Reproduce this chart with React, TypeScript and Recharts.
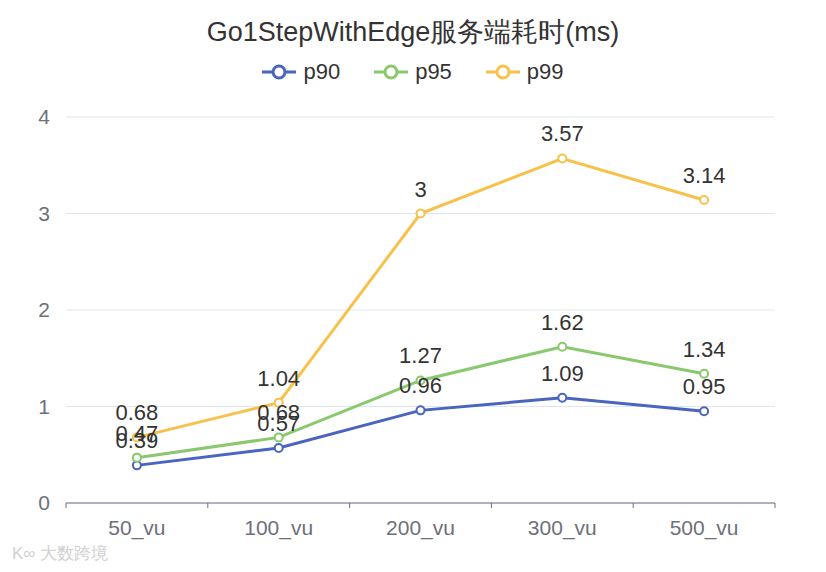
import React from 'react'
import { LineChart, Line, XAxis, YAxis, CartesianGrid, LabelList } from 'recharts'

const categories = ['50_vu', '100_vu', '200_vu', '300_vu', '500_vu']
const p90 = [0.39, 0.57, 0.96, 1.09, 0.95]
const p95 = [0.47, 0.68, 1.27, 1.62, 1.34]
const p99 = [0.68, 1.04, 3, 3.57, 3.14]
const yTicks = [0, 1, 2, 3, 4]

const series = [
  { key: 'p90', color: '#4a64c0' },
  { key: 'p95', color: '#8ac86e' },
  { key: 'p99', color: '#f6c24c' },
]

const W = 826
const H = 572
const margin = { top: 117, right: 51, bottom: 39, left: 0 }
const yAxisWidth = 66
const halfBand = (W - margin.left - margin.right - yAxisWidth) / categories.length / 2

const FONT = '"Liberation Sans", Arial, sans-serif'

const data = categories.map((name, i) => ({
  name,
  p90: p90[i],
  p95: p95[i],
  p99: p99[i],
}))

// category labels centered, tick marks on the band boundaries
function XTick(props: any) {
  const { x, y, payload, index } = props
  return (
    <g>
      <line x1={x - halfBand} y1={y - 8} x2={x - halfBand} y2={y - 3} stroke="#6E7079" />
      {index === categories.length - 1 && (
        <line x1={x + halfBand} y1={y - 8} x2={x + halfBand} y2={y - 3} stroke="#6E7079" />
      )}
      <text x={x} y={y + 24} textAnchor="middle" fill="#6E7079" fontSize={21} fontFamily={FONT}>
        {payload.value}
      </text>
    </g>
  )
}

function LegendIcon({ color }: { color: string }) {
  return (
    <svg width={34} height={16} style={{ verticalAlign: 'middle' }}>
      <line x1={0} y1={8} x2={34} y2={8} stroke={color} strokeWidth={3} />
      <circle cx={17} cy={8} r={6} fill="#fff" stroke={color} strokeWidth={3} />
    </svg>
  )
}

export default function App() {
  return (
    <div style={{ position: 'relative', width: W, height: H, margin: -8, background: '#fff', fontFamily: FONT }}>
      <div
        style={{
          position: 'absolute',
          top: 14,
          left: 0,
          width: W,
          textAlign: 'center',
          fontSize: 27,
          color: '#333',
        }}
      >
        Go1StepWithEdge服务端耗时(ms)
      </div>
      <div
        style={{
          position: 'absolute',
          top: 59,
          left: 0,
          width: W,
          display: 'flex',
          justifyContent: 'center',
          gap: 34,
          fontSize: 22,
          color: '#333',
        }}
      >
        {series.map((s) => (
          <span key={s.key} style={{ display: 'flex', alignItems: 'center', gap: 7 }}>
            <LegendIcon color={s.color} />
            {s.key}
          </span>
        ))}
      </div>
      <LineChart width={W} height={H} data={data} margin={margin}>
        <CartesianGrid vertical={false} stroke="#E0E6F1" />
        <XAxis
          dataKey="name"
          height={30}
          padding={{ left: halfBand, right: halfBand }}
          axisLine={{ stroke: '#6E7079' }}
          tickLine={false}
          tick={<XTick />}
          interval={0}
        />
        <YAxis
          width={yAxisWidth}
          domain={[0, 4]}
          ticks={yTicks}
          axisLine={false}
          tickLine={false}
          tickMargin={10}
          tick={{ fill: '#6E7079', fontSize: 21, fontFamily: FONT }}
        />
        {series.map((s) => (
          <Line
            key={s.key}
            dataKey={s.key}
            stroke={s.color}
            strokeWidth={3}
            dot={{ r: 4, stroke: s.color, strokeWidth: 2, fill: '#fff' }}
            isAnimationActive={false}
          >
            <LabelList dataKey={s.key} position="top" offset={17} fill="#333" fontSize={22} fontFamily={FONT} />
          </Line>
        ))}
      </LineChart>
      <div style={{ position: 'absolute', left: 12, top: 542, fontSize: 17, color: '#d0d0d0' }}>
        K∞ 大数跨境
      </div>
    </div>
  )
}
